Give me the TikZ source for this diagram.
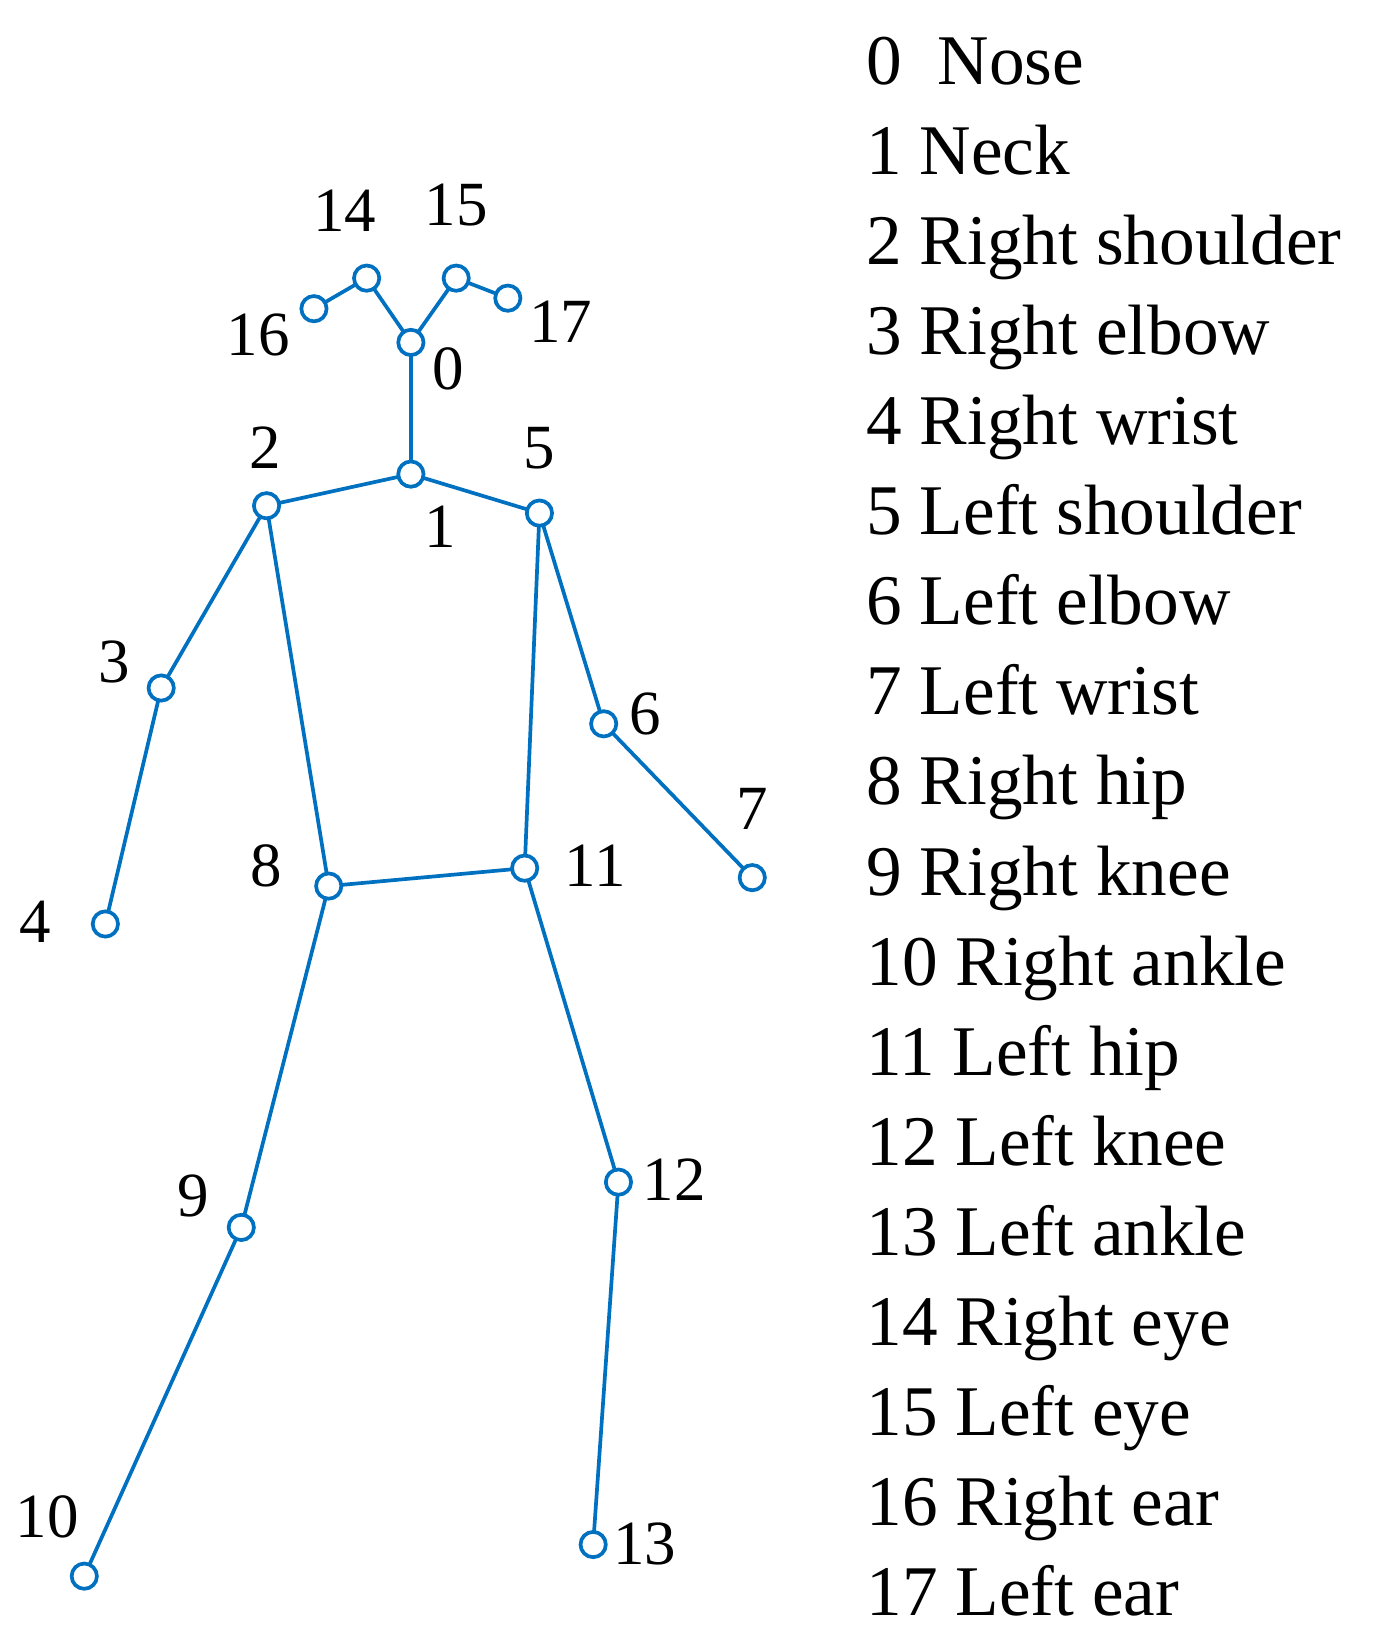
\documentclass[tikz,border=0pt]{standalone}
\usepackage{fontspec}
\setmainfont{Liberation Serif}
\begin{document}
\begin{tikzpicture}[x=0.02cm,y=-0.02cm,
  j/.style={circle,draw=bl,fill=white,line width=2pt,minimum size=0.48cm,inner sep=0pt},
  bone/.style={draw=bl,line width=2pt},
  lab/.style={font=\fontsize{34}{40}\selectfont,inner sep=0pt},
  leg/.style={font=\fontsize{38.5}{44}\selectfont,anchor=base west,inner sep=0pt}]
\definecolor{bl}{RGB}{0,112,192}
\useasboundingbox (0,0) rectangle (1310,1568);
\foreach \n/\x/\y in {0/390/325,1/390/450,2/253/480,3/153/653,4/100/877,5/512/487,6/573/687,7/714/833,8/312/841,9/229/1165,10/80/1496,11/498/824,12/587/1122,13/563/1466,14/348/264,15/433/264,16/298/293,17/482/283}
  \coordinate (c\n) at (\x,\y);
\foreach \a/\b in {0/1,1/2,2/3,3/4,1/5,5/6,6/7,2/8,8/9,9/10,5/11,11/12,12/13,8/11,0/14,14/16,0/15,15/17}
  \draw[bone] (c\a) -- (c\b);
\foreach \n in {0,...,17} \node[j] (p\n) at (c\n) {};
\foreach \n/\x/\y in {0/425/350,1/418/500,2/252/425,3/108/628,4/33/875,5/512/425,6/612/678,7/714/768,8/253/822,9/183/1135,10/45/1440,11/565/822,12/640/1120,13/612/1465,14/327/200,15/433/195,16/245/318,17/532/305}
  \node[lab] (l\n) at (\x,\y) {\n};
\foreach \t [count=\i from 0] in {0\ \ Nose,1 Neck,2 Right shoulder,3 Right elbow,4 Right wrist,5 Left shoulder,6 Left elbow,7 Left wrist,8 Right hip,9 Right knee,10 Right ankle,11 Left hip,12 Left knee,13 Left ankle,14 Right eye,15 Left eye,16 Right ear,17 Left ear}
  \node[leg] (g\i) at (822,{80+85.5*\i}) {\t};
\end{tikzpicture}
\end{document}
